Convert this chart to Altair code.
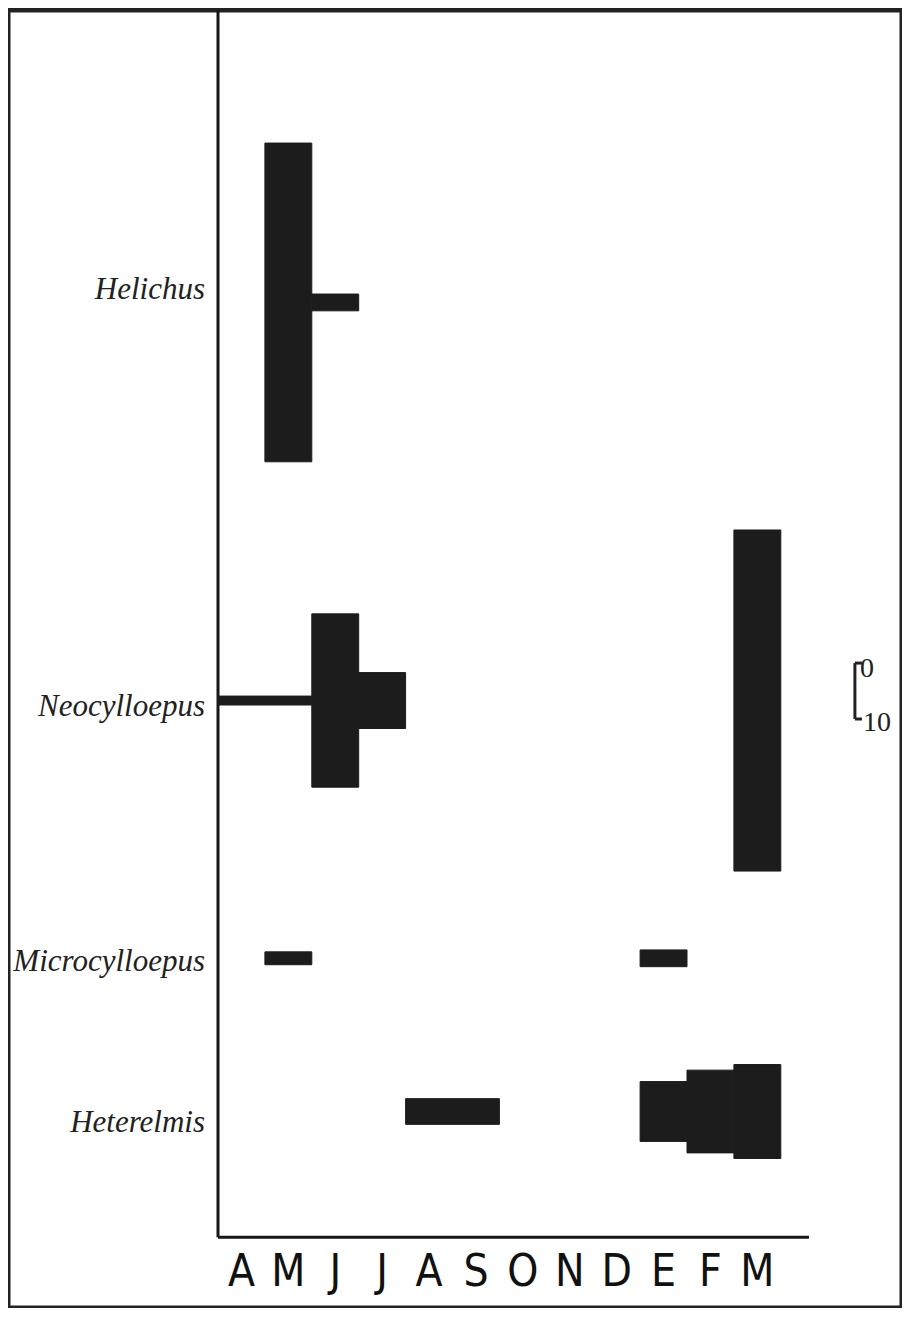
import altair as alt
import pandas as pd

# ---- data (abundance units; scale bar = 10) ----
months = ["A", "M", "J", "J", "A", "S", "O", "N", "D", "E", "F", "M"]
taxa = ["Helichus", "Neocylloepus", "Microcylloepus", "Heterelmis"]
helichus = [0, 57, 3, 0, 0, 0, 0, 0, 0, 0, 0, 0]
neocylloepus = [1.6, 1.6, 31, 10, 0, 0, 0, 0, 0, 0, 0, 61]
microcylloepus = [0, 2.3, 0, 0, 0, 0, 0, 0, 0, 3, 0, 0]
heterelmis = [0, 0, 0, 0, 4.6, 4.6, 0, 0, 0, 10.7, 14.8, 16.8]
scale_bar = [0, 10]

# ---- layout constants ----
W, H = 894, 1300
PX_MONTH = 46.9
PX_UNIT = 5.6
X_DOMAIN = [-0.5 - 210 / PX_MONTH, -0.5 + (W - 210) / PX_MONTH]
Y_DOMAIN = [0, H / PX_UNIT]
row_center = [52.3, 123.5, 169.6, 197.0]
label_base = [51.6, 126.25, 171.8, 200.7]
axis_bottom = 219.5
axis_right = 12.1
month_base = 228.2
bar_x = 13.08
bar_top = 116.8

xs = alt.Scale(domain=X_DOMAIN, nice=False, zero=False)
ys = alt.Scale(domain=Y_DOMAIN, nice=False, zero=False, reverse=True)

series = [helichus, neocylloepus, microcylloepus, heterelmis]
rows = []
for t, vals, c in zip(taxa, series, row_center):
    for i, v in enumerate(vals):
        if v > 0:
            rows.append({"taxon": t, "x0": i - 0.5, "x1": i + 0.5,
                         "y0": c - v / 2, "y1": c + v / 2})
bars_df = pd.DataFrame(rows)

bars = alt.Chart(bars_df).mark_rect(
    color="#1c1c1c", stroke="#1c1c1c", strokeWidth=1
).encode(
    x=alt.X("x0:Q", scale=xs, axis=None),
    x2="x1:Q",
    y=alt.Y("y0:Q", scale=ys, axis=None),
    y2="y1:Q",
)

axes_df = pd.DataFrame([
    {"x": -0.5, "x2": -0.5, "y": Y_DOMAIN[0], "y2": axis_bottom},
    {"x": -0.5, "x2": axis_right, "y": axis_bottom, "y2": axis_bottom},
])
axes = alt.Chart(axes_df).mark_rule(color="#161616", strokeWidth=3).encode(
    x=alt.X("x:Q", scale=xs, axis=None), x2="x2:Q",
    y=alt.Y("y:Q", scale=ys, axis=None), y2="y2:Q",
)

bracket_df = pd.DataFrame([
    {"x": bar_x, "x2": bar_x, "y": bar_top + scale_bar[0], "y2": bar_top + scale_bar[1]},
    {"x": bar_x, "x2": bar_x + 0.15, "y": bar_top + scale_bar[0], "y2": bar_top + scale_bar[0]},
    {"x": bar_x, "x2": bar_x + 0.15, "y": bar_top + scale_bar[1], "y2": bar_top + scale_bar[1]},
])
bracket = alt.Chart(bracket_df).mark_rule(color="#222", strokeWidth=3).encode(
    x=alt.X("x:Q", scale=xs, axis=None), x2="x2:Q",
    y=alt.Y("y:Q", scale=ys, axis=None), y2="y2:Q",
)

bracket_lbl_df = pd.DataFrame([
    {"x": bar_x + 0.26, "y": bar_top + 2.5, "t": str(scale_bar[0])},
    {"x": bar_x + 0.47, "y": bar_top + 12.1, "t": str(scale_bar[1])},
])
bracket_lbl = alt.Chart(bracket_lbl_df).mark_text(
    font="Liberation Serif", fontSize=28, align="center", baseline="alphabetic", color="#222"
).encode(
    x=alt.X("x:Q", scale=xs, axis=None),
    y=alt.Y("y:Q", scale=ys, axis=None),
    text="t:N",
)

month_df = pd.DataFrame({"i": list(range(len(months))), "m": months, "y": month_base})
month_lbl = alt.Chart(month_df).mark_text(
    font="Liberation Sans Narrow, DejaVu Sans Condensed, Arial Narrow, sans-serif",
    fontSize=44, align="center", baseline="alphabetic", color="#111"
).encode(
    x=alt.X("i:Q", scale=xs, axis=None),
    y=alt.Y("y:Q", scale=ys, axis=None),
    text="m:N",
)

taxa_df = pd.DataFrame({"t": taxa, "y": label_base, "x": -0.5})
taxa_lbl = alt.Chart(taxa_df).mark_text(
    font="Liberation Serif", fontStyle="italic", fontSize=31,
    align="right", baseline="alphabetic", dx=-13, color="#222"
).encode(
    x=alt.X("x:Q", scale=xs, axis=None),
    y=alt.Y("y:Q", scale=ys, axis=None),
    text="t:N",
)

chart = alt.layer(axes, bars, bracket, bracket_lbl, month_lbl, taxa_lbl).properties(
    width=W, height=H, padding=0,
    autosize=alt.AutoSizeParams(type="fit", contains="padding"),
    background="white",
).configure_view(stroke="#222", strokeWidth=5)

chart.save("out.html", embed_options={"renderer": "svg", "actions": False})
